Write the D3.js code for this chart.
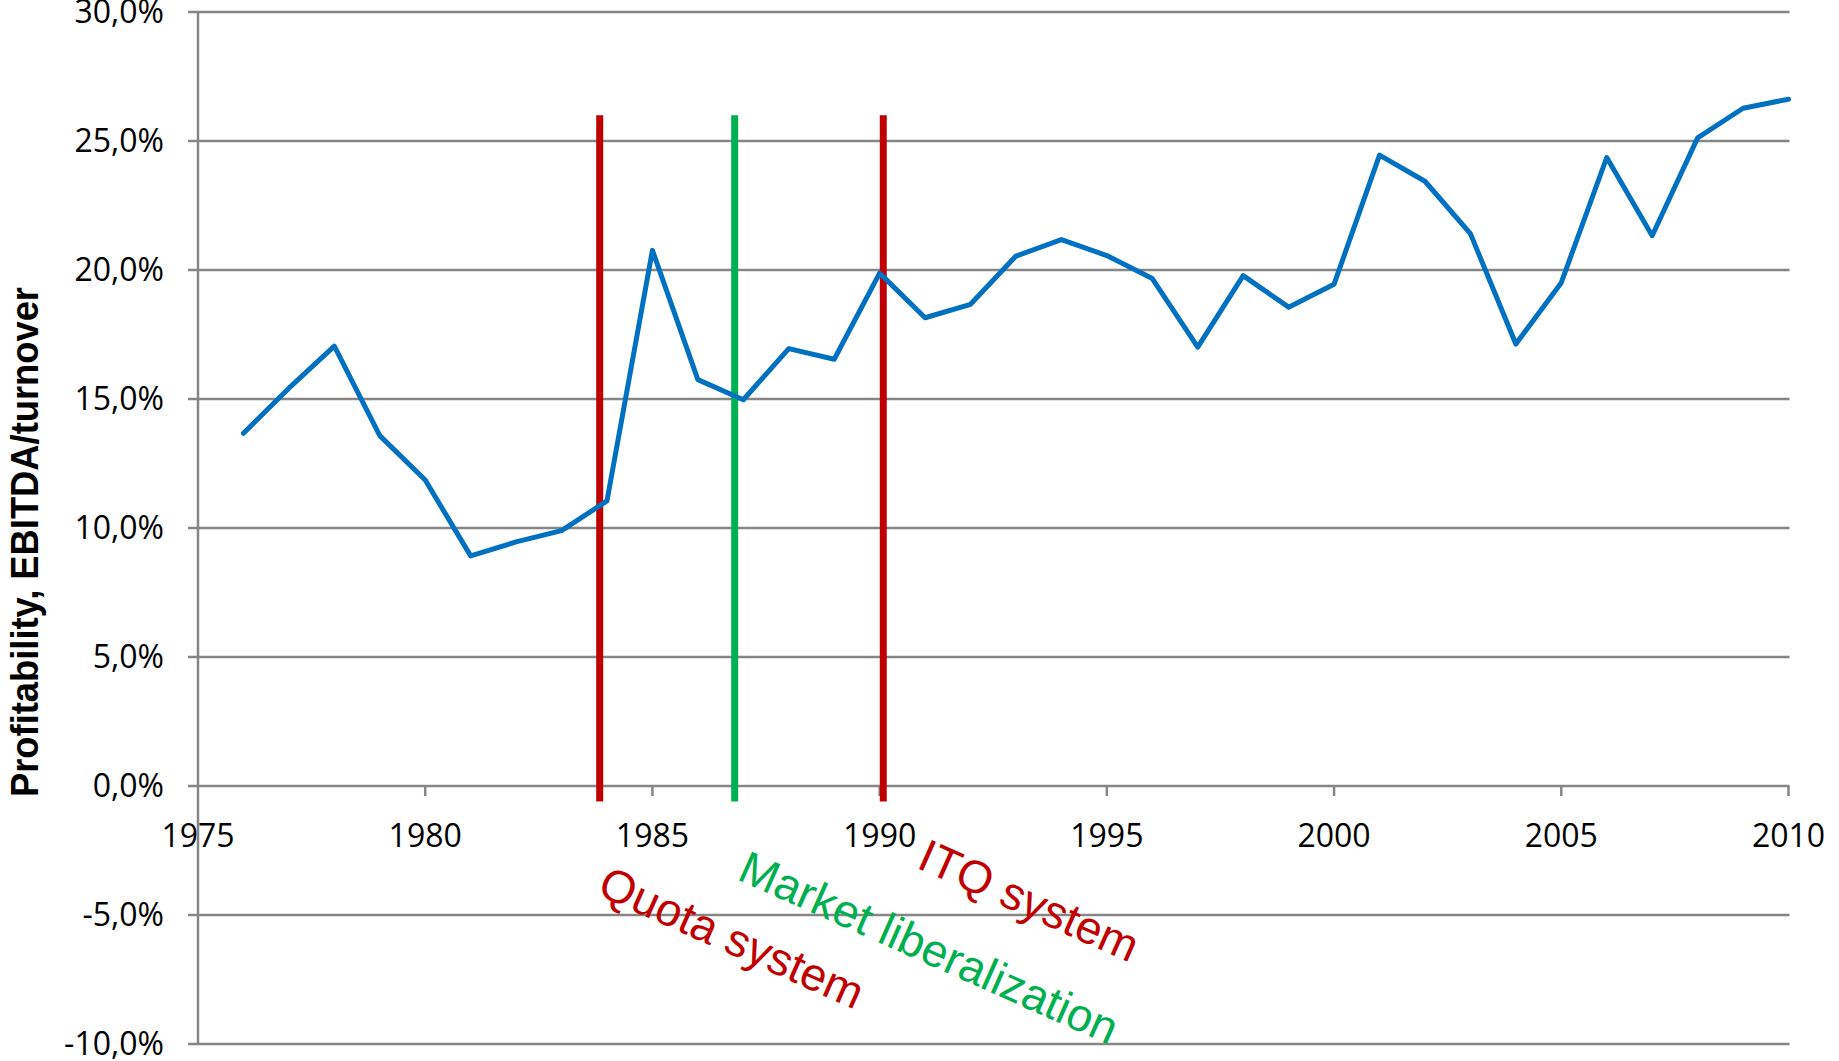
<!DOCTYPE html>
<html>
<head>
<meta charset="utf-8">
<script src="https://cdn.jsdelivr.net/npm/d3@7/dist/d3.min.js"></script>
<style>
  html, body { margin: 0; padding: 0; background: #fff; }
  svg { display: block; }
</style>
</head>
<body>
<svg id="chart" width="1839" height="1061"></svg>
<script>
// ---- data ----
const years = [1976,1977,1978,1979,1980,1981,1982,1983,1984,1985,1986,1987,1988,1989,1990,
               1991,1992,1993,1994,1995,1996,1997,1998,1999,2000,2001,2002,2003,2004,2005,
               2006,2007,2008,2009,2010];
const profitability = [13.67,15.42,17.05,13.58,11.86,8.92,9.46,9.90,11.05,20.76,15.75,14.97,16.95,16.54,19.88,
                       18.15,18.67,20.54,21.18,20.56,19.67,17.01,19.78,18.56,19.45,24.45,23.44,21.41,17.13,19.51,
                       24.36,21.33,25.12,26.27,26.62];
const yTicks = [-10,-5,0,5,10,15,20,25,30];
const xTicks = [1975,1980,1985,1990,1995,2000,2005,2010];
const eventYears = [1983.84, 1986.81, 1990.08];
const eventLabels = ["Quota system", "Market liberalization", "ITQ system"];
const eventTop = 26;
const eventBottom = -0.6;
const yTitle = "Profitability, EBITDA/turnover";

// ---- layout ----
const svg = d3.select("#chart");
const x = d3.scaleLinear().domain([1975, 2010]).range([198, 1788.5]);
const y = d3.scaleLinear().domain([-10, 30]).range([1044, 12]);
const gray = "#868686";
const eventColors = ["#C00000", "#00B050", "#C00000"];
const fmt = v => (v < 0 ? "-" : "") + Math.abs(v).toFixed(1).replace(".", ",") + "%";

// gridlines (extend left as ticks)
svg.append("g").selectAll("line").data(yTicks).join("line")
  .attr("x1", x(1975) - 10).attr("x2", x(2010) + 1)
  .attr("y1", d => y(d)).attr("y2", d => y(d))
  .attr("stroke", gray).attr("stroke-width", 2.5);

// y axis line
svg.append("line")
  .attr("x1", x(1975)).attr("x2", x(1975))
  .attr("y1", y(30)).attr("y2", y(-10))
  .attr("stroke", gray).attr("stroke-width", 2.5);

// x ticks at 0 line
svg.append("g").selectAll("line").data(xTicks.filter(d => d > 1975)).join("line")
  .attr("x1", d => x(d)).attr("x2", d => x(d))
  .attr("y1", y(0)).attr("y2", y(0) + 10)
  .attr("stroke", gray).attr("stroke-width", 2.5);

// y labels
svg.append("g").selectAll("text").data(yTicks).join("text")
  .attr("x", 164).attr("y", d => y(d))
  .attr("dy", "0.35em")
  .attr("text-anchor", "end")
  .attr("font-family", "'Open Sans', sans-serif")
  .attr("font-size", 32)
  .attr("fill", "#000")
  .text(fmt);

// x labels
svg.append("g").selectAll("text").data(xTicks).join("text")
  .attr("x", d => x(d)).attr("y", y(0) + 50)
  .attr("dy", "0.35em")
  .attr("text-anchor", "middle")
  .attr("font-family", "'Open Sans', sans-serif")
  .attr("font-size", 32)
  .attr("fill", "#000")
  .text(d => d);

// event lines
svg.append("g").selectAll("line").data(eventYears).join("line")
  .attr("x1", d => x(d)).attr("x2", d => x(d))
  .attr("y1", y(eventTop)).attr("y2", y(eventBottom))
  .attr("stroke", (d, i) => eventColors[i]).attr("stroke-width", 7);

// data line
const line = d3.line().x((d, i) => x(years[i])).y(d => y(d));
svg.append("path")
  .datum(profitability)
  .attr("d", line)
  .attr("fill", "none")
  .attr("stroke", "#0070C0")
  .attr("stroke-width", 5)
  .attr("stroke-linejoin", "round")
  .attr("stroke-linecap", "round");

// event annotations (rotated)
const labelPlacement = [
  { dx: -4, v: -4.2 },
  { dx: 1, v: -3.6 },
  { dx: 32, v: -3.15 }
];
svg.append("g").selectAll("text").data(eventLabels).join("text")
  .attr("transform", (d, i) => `translate(${x(eventYears[i]) + labelPlacement[i].dx},${y(labelPlacement[i].v)}) rotate(24)`)
  .attr("font-family", "'Liberation Sans', Arial, sans-serif")
  .attr("font-size", 46)
  .attr("fill", (d, i) => eventColors[i])
  .text(d => d);

// y axis title
svg.append("text")
  .attr("transform", `translate(38, 542) rotate(-90)`)
  .attr("text-anchor", "middle")
  .attr("font-family", "'Liberation Sans', Arial, sans-serif")
  .attr("font-weight", "bold")
  .attr("font-size", 38)
  .attr("textLength", 510)
  .attr("lengthAdjust", "spacingAndGlyphs")
  .attr("fill", "#000")
  .text(yTitle);
</script>
</body>
</html>
